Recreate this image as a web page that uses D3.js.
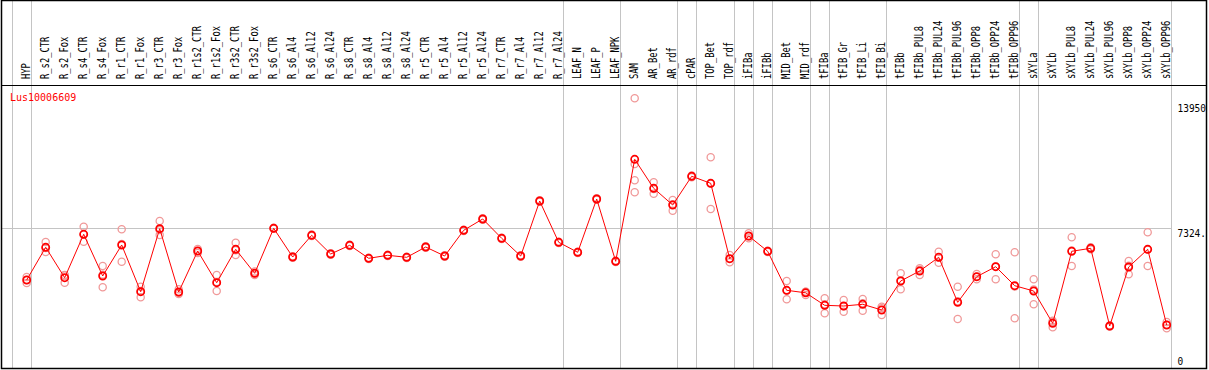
<!DOCTYPE html>
<html>
<head>
<meta charset="utf-8">
<script src="https://cdn.jsdelivr.net/npm/d3@7"></script>
<style>
  body { margin: 0; background: #fff; }
  text { font-family: "DejaVu Sans Mono", "Liberation Mono", monospace; }
</style>
</head>
<body>
<div id="chart"></div>
<script>
// Sample names, one column each
const labels = ["HYP", "R_s2_CTR", "R_s2_Fox", "R_s4_CTR", "R_s4_Fox", "R_r1_CTR", "R_r1_Fox",
  "R_r3_CTR", "R_r3_Fox", "R_r1s2_CTR", "R_r1s2_Fox", "R_r3s2_CTR", "R_r3s2_Fox", "R_s6_CTR",
  "R_s6_Al4", "R_s6_Al12", "R_s6_Al24", "R_s8_CTR", "R_s8_Al4", "R_s8_Al12", "R_s8_Al24",
  "R_r5_CTR", "R_r5_Al4", "R_r5_Al12", "R_r5_Al24", "R_r7_CTR", "R_r7_Al4", "R_r7_Al12", "R_r7_Al24",
  "LEAF_N", "LEAF_P", "LEAF_NPK", "SAM", "AR_Bet", "AR_rdf", "cPAR", "TOP_Bet", "TOP_rdf",
  "iFIBa", "iFIBb", "MID_Bet", "MID_rdf", "tFIBa", "tFIB_Gr", "tFIB_Li", "tFIB_Bi", "tFIBb",
  "tFIBb_PUL8", "tFIBb_PUL24", "tFIBb_PUL96", "tFIBb_OPP8", "tFIBb_OPP24", "tFIBb_OPP96",
  "sXYLa", "sXYLb", "sXYLb_PUL8", "sXYLb_PUL24", "sXYLb_PUL96", "sXYLb_OPP8", "sXYLb_OPP24", "sXYLb_OPP96"];

// number of columns in each tissue group (separated by grey lines)
const groupSizes = [1, 28, 3, 3, 1, 2, 1, 1, 2, 1, 3, 7, 1, 7];

// mean expression per sample
const meanValues = [4590, 6319, 4712, 7007, 4802, 6441, 3971, 7303, 3955, 6124, 4447, 6213, 4944, 7324,
  5806, 6954, 5965, 6425, 5737, 5896, 5790, 6335, 5859, 7218, 7816, 6795, 5859, 8767, 6584,
  6055, 8873, 5579, 10973, 9439, 8556, 10074, 9703, 5716, 6917, 6108, 4045, 3913, 3252, 3215,
  3305, 3004, 4537, 5066, 5790, 3411, 4765, 5293, 4289, 4008, 2300, 6108, 6266, 2158, 5277,
  6213, 2210];

// individual replicates per sample
const replicateValues = [
  [4749, 4590, 4431], [6600, 6282, 6071], [4854, 4835, 4447], [7409, 7007, 6615], [5330, 4872, 4204],
  [7271, 6494, 5558], [4236, 4002, 3675], [7710, 7229, 6970], [4098, 3917, 3850], [6229, 6124, 6018],
  [4854, 4479, 4008], [6562, 6165, 5912], [5039, 4939, 4854], [7350, 7324, 7298], [5840, 5806, 5772],
  [6990, 6954, 6918], [6000, 5965, 5930], [6460, 6425, 6390], [5770, 5737, 5704], [5930, 5896, 5862],
  [5825, 5790, 5755], [6370, 6335, 6300], [5894, 5859, 5824], [7253, 7218, 7183], [7851, 7816, 7781],
  [6830, 6795, 6760], [5894, 5859, 5824], [8802, 8767, 8732], [6619, 6584, 6549], [6090, 6055, 6020],
  [8908, 8873, 8838], [5614, 5579, 5544], [14198, 10724, 9862, 9228], [9756, 9407, 9154], [8820, 8593, 8255],
  [10120, 10074, 10030], [11078, 9687, 8344], [5912, 5710, 5526], [7059, 6900, 6792], [6140, 6108, 6076],
  [4537, 4029, 3569], [3971, 3971, 3797], [3622, 3305, 2829], [3532, 3199, 2914], [3585, 3363, 2967],
  [3178, 3095, 2739], [4944, 4569, 4098], [5209, 5135, 4854], [6087, 5778, 5505], [4236, 3469, 2528],
  [4907, 4761, 4627], [5949, 5303, 4627], [6055, 4247, 2565], [4627, 4092, 3305], [2438, 2373, 2089],
  [6848, 6146, 5330], [6320, 6266, 6212], [2190, 2158, 2126], [5595, 5345, 4891], [7112, 6197, 5330],
  [2369, 2225, 2036]];

// right-hand value labels, as printed
const yTicks = [0, 7324, 13950];
const yTickLabels = ["0", "7324.", "13950"];
const geneName = "Lus10006609";

const W = 1209, H = 370;
const frame = { left: 1.5, top: 0.5, right: 1206.5, bottom: 368.5 };
const headerY = 85.5;
const step = 19;

const svg = d3.select("#chart").append("svg")
  .attr("width", W)
  .attr("height", H);

svg.append("clipPath").attr("id", "frame-clip")
  .append("rect")
  .attr("x", frame.left).attr("y", frame.top)
  .attr("width", frame.right - frame.left).attr("height", frame.bottom - frame.top);

const g = svg.append("g").attr("clip-path", "url(#frame-clip)");

const x = d3.scalePoint().domain(labels).range([26.7, 26.7 + step * (labels.length - 1)]);
const y = d3.scaleLinear().domain([0, 13950]).range([366.8, 103]);

// group separators
let cum = 0;
const sepIdx = [-1];
groupSizes.forEach(n => { cum += n; sepIdx.push(cum - 1); });
g.selectAll(".sep")
  .data(sepIdx)
  .enter().append("line")
  .attr("class", "sep")
  .attr("x1", i => Math.round(x(labels[0]) + step * i + 4) + 0.5)
  .attr("x2", i => Math.round(x(labels[0]) + step * i + 4) + 0.5)
  .attr("y1", 0).attr("y2", H)
  .style("stroke", "#c4c4c4")
  .style("stroke-width", 1);

// middle reference line
const lastSep = Math.round(x(labels[labels.length - 1]) + 4) + 0.5;
g.append("line")
  .attr("x1", frame.left).attr("x2", lastSep)
  .attr("y1", Math.round(y(yTicks[1])) + 0.5)
  .attr("y2", Math.round(y(yTicks[1])) + 0.5)
  .style("stroke", "#c4c4c4");

// column labels
g.selectAll(".col-label")
  .data(labels)
  .enter().append("text")
  .attr("class", "col-label")
  .attr("transform", d => "translate(" + Math.round(x(d) + 3) + "," + 79 + ") rotate(-90)")
  .attr("textLength", d => d.length * 5.3)
  .attr("lengthAdjust", "spacingAndGlyphs")
  .style("font-size", "11.5px")
  .style("fill", "#000")
  .text(d => d);

// header line
g.append("line")
  .attr("x1", 0).attr("x2", W)
  .attr("y1", headerY).attr("y2", headerY)
  .style("stroke", "#000");

// replicate points
const reps = [];
replicateValues.forEach((arr, i) => arr.forEach(v => reps.push({ label: labels[i], value: v })));
g.append("g")
  .selectAll("circle")
  .data(reps)
  .enter().append("circle")
  .attr("cx", d => x(d.label))
  .attr("cy", d => y(d.value))
  .attr("r", 3.6)
  .style("fill", "none")
  .style("stroke", "#f09a9a")
  .style("stroke-width", 1.3);

// mean line
const means = labels.map((l, i) => ({ label: l, value: meanValues[i] }));
g.append("path")
  .datum(means)
  .attr("d", d3.line().x(d => x(d.label)).y(d => y(d.value)))
  .style("fill", "none")
  .style("stroke", "#ff0000")
  .style("stroke-width", 1);

g.append("g")
  .selectAll("circle")
  .data(means)
  .enter().append("circle")
  .attr("cx", d => x(d.label))
  .attr("cy", d => y(d.value))
  .attr("r", 3.6)
  .style("fill", "none")
  .style("stroke", "#ff0000")
  .style("stroke-width", 1.7);

// gene name
g.append("text")
  .attr("x", 10)
  .attr("y", 101)
  .style("font-size", "10px")
  .style("fill", "#ff0000")
  .text(geneName);

// value labels on the right
g.selectAll(".y-label")
  .data(yTicks)
  .enter().append("text")
  .attr("class", "y-label")
  .attr("x", 1177.5)
  .attr("y", d => Math.min(y(d) + 8.5, 365))
  .attr("textLength", (d, i) => yTickLabels[i].length * 5.7)
  .attr("lengthAdjust", "spacingAndGlyphs")
  .style("font-size", "10px")
  .style("fill", "#000")
  .text((d, i) => yTickLabels[i]);

// outer frame
svg.append("rect")
  .attr("x", frame.left).attr("y", frame.top)
  .attr("width", frame.right - frame.left).attr("height", frame.bottom - frame.top)
  .style("fill", "none")
  .style("stroke", "#000")
  .style("stroke-width", 1.5);
</script>
</body>
</html>
